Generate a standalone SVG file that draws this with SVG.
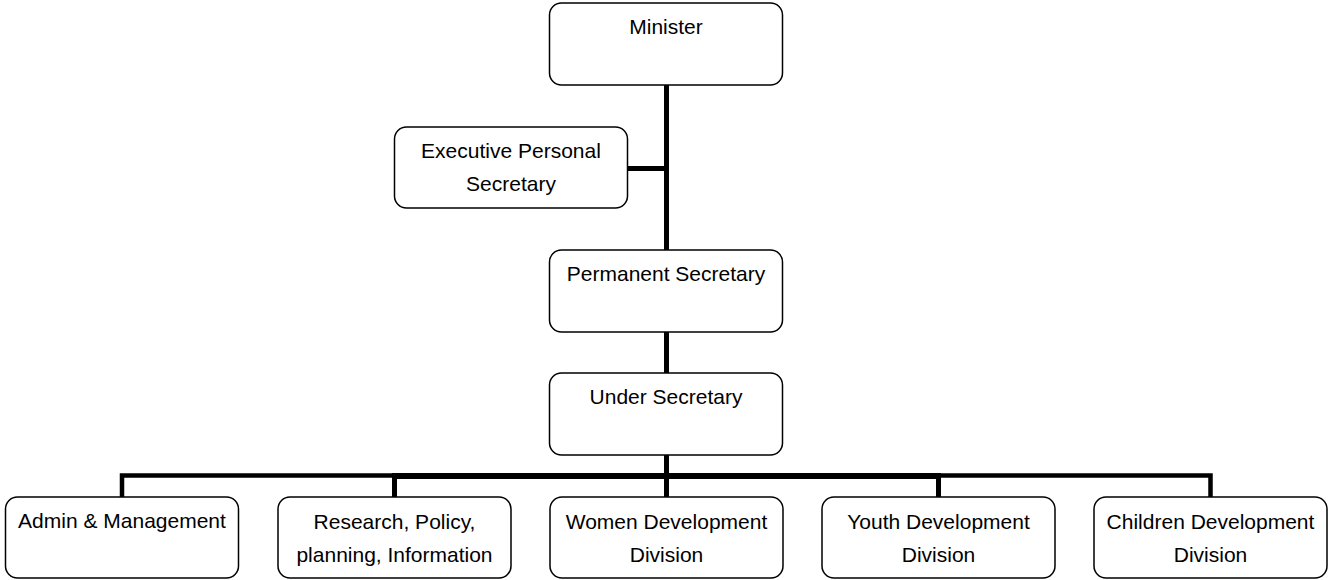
<svg xmlns="http://www.w3.org/2000/svg" width="1328" height="580" viewBox="0 0 1328 580">
<style>
.box{fill:#fff;stroke:#000;stroke-width:1.5}
.lbl{font-family:"Liberation Sans",Arial,sans-serif;font-size:21px;fill:#000;text-anchor:middle}
.ln{stroke:#000;fill:none;stroke-linecap:butt}
</style>
<rect width="1328" height="580" fill="#fff"/>
<g id="connectors">
<line class="ln" x1="666.5" y1="85" x2="666.5" y2="497" stroke-width="5"/>
<line class="ln" x1="628" y1="168.5" x2="666.5" y2="168.5" stroke-width="5"/>
<line class="ln" x1="392" y1="476" x2="941" y2="476" stroke-width="6"/>
<polyline class="ln" points="122,497 122,475.5 394.5,475.5" stroke-width="4.5"/>
<line class="ln" x1="394.5" y1="476" x2="394.5" y2="497" stroke-width="5"/>
<polyline class="ln" points="938.5,475.5 1210.5,475.5 1210.5,497" stroke-width="4.5"/>
<line class="ln" x1="938.5" y1="476" x2="938.5" y2="497" stroke-width="5"/>
</g>
<g id="minister">
<rect class="box" x="549.5" y="3" width="233" height="82" rx="12"/>
<text class="lbl" x="666" y="33.5">Minister</text>
</g>
<g id="eps">
<rect class="box" x="394.5" y="127" width="233" height="81" rx="12"/>
<text class="lbl" x="511" y="157.5">Executive Personal</text>
<text class="lbl" x="511" y="191">Secretary</text>
</g>
<g id="permanent-secretary">
<rect class="box" x="549.5" y="250" width="233" height="82" rx="12"/>
<text class="lbl" x="666" y="281">Permanent Secretary</text>
</g>
<g id="under-secretary">
<rect class="box" x="549.5" y="373" width="233" height="82" rx="12"/>
<text class="lbl" x="666" y="404">Under Secretary</text>
</g>
<g id="admin">
<rect class="box" x="5.5" y="497" width="233" height="81" rx="12"/>
<text class="lbl" x="122" y="528">Admin &amp; Management</text>
</g>
<g id="research">
<rect class="box" x="278" y="497" width="233" height="81" rx="12"/>
<text class="lbl" x="394.5" y="528.5">Research, Policy,</text>
<text class="lbl" x="394.5" y="562">planning, Information</text>
</g>
<g id="women">
<rect class="box" x="550" y="497" width="233" height="81" rx="12"/>
<text class="lbl" x="666.5" y="528.5">Women Development</text>
<text class="lbl" x="666.5" y="562">Division</text>
</g>
<g id="youth">
<rect class="box" x="822" y="497" width="233" height="81" rx="12"/>
<text class="lbl" x="938.5" y="528.5">Youth Development</text>
<text class="lbl" x="938.5" y="562">Division</text>
</g>
<g id="children">
<rect class="box" x="1094" y="497" width="233" height="81" rx="12"/>
<text class="lbl" x="1210.5" y="528.5">Children Development</text>
<text class="lbl" x="1210.5" y="562">Division</text>
</g>
</svg>
